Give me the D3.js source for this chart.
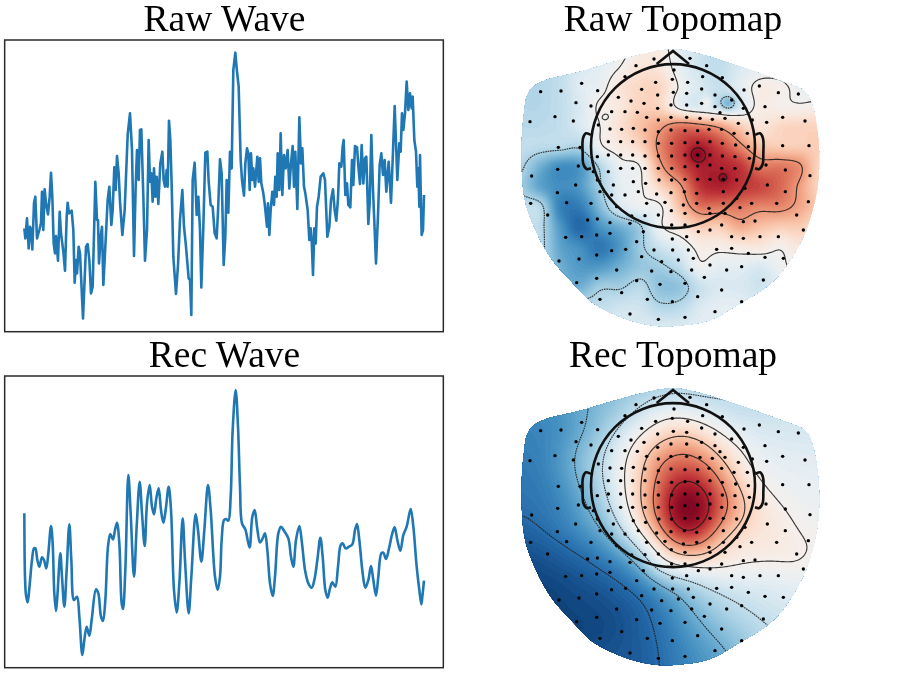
<!DOCTYPE html>
<html><head><meta charset="utf-8">
<style>html,body{margin:0;padding:0;background:#fff}svg{display:block;filter:blur(.35px)}</style>
<script src="https://cdn.jsdelivr.net/npm/d3@7"></script></head><body>
<svg id="c" width="897" height="673"></svg>
<script>
// ---------- wave data (digitised units) ----------
const rawTimeA=[73,76,81,86,90,93,97,102,106,111,118,123,126,130,134,138,144,149,153,157,161,165,168,174,179,183,190,195,200,203,207,215,220,224,228,231,236,240,249,258,263,268,273,278,286,291,294,297,302,306,310,316,323,328,334,338,343,347,351,356,360,367,374,383,390,396,402,407,411,416,420,424,430,435,441,446,450,454,458,462,466,470,475,481,487,491,495,500,503,507,511,515,520,528,534,540,547,552,558,566,570,574,578,584,590,595,600,604,610,616,622,626,632,638,644,650,654];
const rawValueA=[595,625,565,655,590,600,658,520,500,625,600,580,485,600,478,520,553,500,428,500,640,670,618,692,545,610,665,722,560,518,550,542,600,758,690,730,650,670,865,650,642,690,790,770,455,570,570,700,620,590,765,650,510,470,585,540,412,480,378,430,515,615,540,315,250,360,678,470,360,450,300,298,500,692,600,330,455,430,515,415,500,440,522,400,365,450,470,420,470,272,330,465,680,792,705,570,480,590,650,745,750,855,450,398,555,500,600,772,590,368,365,455,525,530,610,625,545];
const rawTimeB=[0,5,11,16,20,25,30,35,40,46,50,56,62,66,72,76,81,85,89,93,97,100,105,112,116,120,124,130,134,141,144,148,152,157,162,166,170,173,178,182,187,192,197,203,208,213,218,222,226,232,238,243,247,252,256,263,268,272,275,279,283,287,291,296,302,310,315,322,328,333,339,344,349,354,358,364,368,371,376,381,385,391,396,400,405,411,416,420,425,430,435,439,445,449,454,459,463,468,474,479,484,489,494,499,506,513,518,524,532,538,542,546,550,555,560,565,570,575,578,583,588,592,595,598,600,603,605,609,612];
const rawValueB=[388,430,705,620,450,548,365,415,120,68,115,170,390,450,497,400,355,370,480,370,450,415,470,380,455,385,460,490,520,590,520,615,540,485,525,440,500,370,480,310,495,375,415,360,475,400,348,470,365,537,262,400,355,470,490,540,630,595,630,735,595,640,530,500,440,430,450,620,590,510,478,540,572,505,400,410,350,330,495,460,525,532,390,465,348,352,420,462,345,460,385,380,582,520,315,480,575,700,555,405,370,435,390,485,395,518,390,228,450,340,365,250,300,250,155,240,190,235,200,330,365,470,415,530,375,530,615,600,495];
const recTimeA=[73,75,78,83,88,96,102,106,112,118,126,132,139,145,153,158,163,168,172,181,186,193,200,208,214,222,231,238,247,253,260,268,275,288,295,303,309,316,324,331,339,345,351,358,365,369,376,385,392,402,410,419,426,434,441,449,456,462,469,476,483,490,497,506,513,522,530,538,548,555,566,574,587,594,604,613,624,632,645,653];
const recValueA=[430,620,675,697,655,570,535,535,570,590,562,570,595,550,468,520,670,723,680,550,620,710,600,463,570,690,680,740,855,810,770,797,750,658,670,740,753,690,530,492,508,480,458,520,700,717,600,315,430,620,470,335,430,528,400,345,410,433,385,355,420,458,420,350,420,660,727,640,445,570,730,620,432,480,575,480,345,420,620,660];
const recTimeB=[0,5,12,18,25,32,38,47,54,60,66,76,83,89,97,104,111,120,128,135,142,150,158,165,175,183,192,205,213,220,228,238,246,255,265,275,283,292,301,308,316,323,330,337,346,354,362,368,377,387,397,405,411,418,428,436,445,453,460,468,475,484,490,498,507,517,524,532,541,550,560,572,580,590,598,604,607,612];
const recValueB=[620,510,450,447,452,380,180,60,170,350,460,478,510,532,440,420,470,517,505,490,540,640,678,620,490,470,482,505,560,590,510,468,520,600,640,653,630,570,503,560,660,683,655,637,650,590,525,520,535,530,523,480,462,510,610,653,630,588,630,677,620,550,548,567,535,490,472,510,542,495,470,417,470,590,660,703,680,632];
// ---------- topomap data: scalp field on a regular digitised grid ----------
const gridX=[30,90,150,210,270,330,390,450,510,570,630,690,750,810,870,930];
const gridY=[20,80,140,200,260,320,380,440,500,560,620,680,740,800,860];
const rawField=[
[-.2,-.2,-.2,-.15,-.1,-.05,.03,.05,-.1,-.2,-.25,-.2,-.15,-.15,-.15,-.15],
[-.3,-.3,-.25,-.15,-.1,0,.12,.1,-.08,-.2,-.25,-.15,-.1,-.08,-.1,-.1],
[-.3,-.3,-.25,-.12,-.06,.12,.2,.2,-.02,-.15,-.22,-.1,.05,.03,-.05,-.1],
[-.3,-.3,-.25,-.15,.03,.1,.22,.2,-.05,-.15,-.2,-.15,.05,.03,.02,.05],
[-.28,-.28,-.25,-.15,.0,.15,.3,.42,.55,.52,.42,.25,.12,.2,.22,.22],
[-.25,-.27,-.28,-.3,-.03,.08,.2,.5,.7,.82,.7,.5,.3,.25,.25,.25],
[-.3,-.5,-.65,-.6,-.3,-.06,0,.4,.65,.82,.82,.75,.55,.55,.47,.2],
[-.36,-.55,-.65,-.6,-.35,-.1,-.02,.2,.42,.75,.82,.75,.7,.6,.42,.2],
[-.25,-.28,-.7,-.72,-.45,-.15,-.05,-.02,.3,.55,.55,.55,.5,.5,.4,.25],
[-.22,-.28,-.6,-.82,-.62,-.5,-.35,-.03,.1,.25,.25,.38,.3,.25,.25,.15],
[-.22,-.28,-.55,-.65,-.75,-.6,-.37,-.2,-.1,.05,.05,.08,.1,.02,.12,.1],
[-.25,-.3,-.5,-.6,-.6,-.5,-.4,-.36,-.25,-.03,-.1,-.1,-.15,-.04,.05,.05],
[-.3,-.35,-.45,-.5,-.36,-.35,-.28,-.42,-.4,-.22,-.15,-.15,-.2,-.1,0,0],
[-.25,-.25,-.25,-.25,-.25,-.2,-.2,-.3,-.28,-.15,-.1,-.1,-.1,-.05,0,0],
[-.15,-.15,-.15,-.15,-.15,-.15,-.15,-.15,-.15,-.1,-.1,-.1,-.05,-.05,0,0]];
const rawPockets=[[655,190,22,-.25],[590,185,18,.2],[290,230,15,-.08],[560,345,22,.12],[640,412,12,.08]];
const recField=[
[-.6,-.6,-.58,-.55,-.5,-.42,-.38,-.35,-.33,-.33,-.3,-.28,-.25,-.2,-.2,-.2],
[-.68,-.65,-.62,-.52,-.45,-.38,-.26,-.14,-.12,-.18,-.23,-.25,-.25,-.22,-.2,-.2],
[-.7,-.7,-.65,-.55,-.42,-.25,-.08,.1,.15,.08,-.05,-.15,-.17,-.17,-.18,-.18],
[-.72,-.7,-.62,-.47,-.32,-.1,.14,.33,.45,.38,.15,0,-.1,-.12,-.13,-.13],
[-.75,-.72,-.6,-.45,-.28,-.03,.2,.55,.65,.6,.38,.1,-.06,-.08,-.1,-.1],
[-.75,-.75,-.65,-.5,-.3,-.05,.25,.6,.9,.85,.55,.25,.03,-.03,-.07,-.07],
[-.78,-.75,-.7,-.57,-.38,-.12,.25,.65,1.05,1.02,.65,.36,.12,.03,-.03,-.05],
[-.85,-.79,-.72,-.62,-.5,-.25,.1,.5,.95,.88,.45,.22,.14,.08,0,-.03],
[-.9,-.88,-.83,-.75,-.65,-.48,-.22,.15,.5,.47,.2,.1,.09,.08,.05,0],
[-.95,-.93,-.9,-.87,-.79,-.7,-.52,-.08,-.02,.03,.05,.02,0,0,.03,-.05],
[-.98,-.98,-.95,-.92,-.9,-.83,-.75,-.57,-.42,-.3,-.2,-.17,-.15,-.13,-.1,-.1],
[-.98,-.98,-.97,-.95,-.93,-.9,-.85,-.72,-.57,-.42,-.33,-.25,-.2,-.17,-.15,-.15],
[-.98,-.98,-.97,-.97,-.96,-.92,-.85,-.78,-.65,-.53,-.42,-.35,-.28,-.22,-.2,-.2],
[-.95,-.95,-.95,-.95,-.92,-.9,-.87,-.79,-.7,-.6,-.52,-.42,-.3,-.3,-.3,-.3],
[-.9,-.9,-.9,-.9,-.9,-.88,-.88,-.8,-.72,-.65,-.58,-.47,-.35,-.3,-.3,-.3]];
const recPockets=[];
const rawLevels=[-.33,0,.45,.87];
const recLevels=[-.8,-.5,-.25,.02,.27,.5,.8];
const sensors=[[432,57],[540,55],[378,77],[590,77],[492,90],[533,127],[578,110],[637,113],[345,110],[395,148],[437,127],[487,118],[490,157],[530,160],[575,147],[615,165],[325,172],[363,183],[402,190],[443,165],[443,205],[483,195],[530,195],[575,190],[615,200],[665,180],[630,218],[702,150],[700,205],[748,138],[805,158],[865,162],[765,200],[818,232],[885,243],[92,155],[153,153],[215,130],[263,152],[198,188],[243,198],[60,245],[135,230],[190,243],[305,215],[345,215],[382,217],[410,232],[445,240],[483,232],[530,232],[570,235],[607,238],[645,235],[685,250],[727,240],[770,247],[265,255],[300,267],[335,268],[370,265],[405,270],[445,275],[483,270],[525,272],[563,272],[597,268],[635,268],[672,280],[712,280],[295,305],[332,305],[368,305],[405,305],[445,310],[485,310],[525,308],[563,308],[600,305],[637,310],[677,315],[715,320],[145,322],[210,322],[818,317],[897,317],[262,350],[295,345],[332,345],[368,345],[405,348],[445,348],[485,348],[525,345],[563,345],[600,345],[637,348],[675,350],[718,355],[143,388],[205,378],[250,395],[295,395],[332,385],[368,385],[405,385],[445,385],[485,385],[525,380],[563,378],[600,375],[635,385],[675,385],[768,375],[826,390],[900,407],[65,408],[197,435],[262,420],[310,435],[370,425],[407,430],[447,420],[485,420],[525,418],[563,418],[600,418],[640,418],[680,420],[705,445],[772,435],[826,455],[142,458],[270,455],[305,465],[345,465],[385,455],[440,462],[483,458],[523,455],[560,460],[640,455],[680,475],[62,490],[170,488],[243,490],[320,500],[410,490],[465,487],[520,495],[560,490],[597,505],[640,490],[690,503],[725,490],[800,490],[895,485],[113,525],[233,540],[262,537],[365,528],[405,527],[445,525],[484,512],[525,520],[600,520],[645,520],[700,545],[735,543],[860,525],[300,548],[360,550],[400,575],[485,555],[525,555],[565,575],[600,570],[635,555],[665,590],[700,595],[750,590],[805,590],[880,570],[167,592],[215,590],[260,585],[300,580],[380,605],[432,630],[487,597],[530,590],[488,630],[535,630],[620,628],[665,625],[715,640],[765,652],[820,655],[260,645],[207,657],[147,663],[305,632],[347,628],[395,650],[455,665],[505,660],[550,655],[600,675],[650,690],[695,680],[320,690],[425,693],[483,695],[545,690],[260,715],[200,728],[380,722],[450,733],[525,730],[583,712],[635,750],[695,785],[760,720],[335,758],[270,778],[412,778],[487,785],[563,770],[360,822],[445,838],[525,832],[615,815]];
const scalpOutline=[[410,40],[489,28],[560,40],[660,70],[830,130],[885,155],[905,190],[925,300],[925,420],[905,520],[880,590],[820,690],[770,740],[690,790],[600,840],[490,858],[420,855],[330,830],[250,790],[180,720],[120,650],[60,530],[40,450],[40,240],[65,145],[230,90]];
const nose=[[440,72],[489,33],[537,72]];
const leftEar=[[243,285],[228,280],[219,295],[218,340],[220,372],[230,387],[243,385]];
const rightEar=[[735,285],[750,280],[759,295],[760,340],[758,372],[748,387],[735,385]];
const head={cx:489,cy:318.5,r:246};
const titles=["Raw Wave","Rec Wave","Raw Topomap","Rec Topomap"];
// ---------- drawing ----------
const svg=d3.select("#c");
function title(t,x,y){svg.append("text").attr("x",x).attr("y",y).attr("text-anchor","middle")
  .attr("font-family","'Liberation Serif',serif").attr("font-size",37.5).attr("fill","#000").text(t);}
function wave(tA,vA,tB,vB,box,curve){
  const x=d3.scaleLinear().domain([0,1347]).range([0,449]);
  const y=d3.scaleLinear().domain(box.dom).range([box.y0,box.y1]);
  const pts=[...tA.map((t,i)=>[t,vA[i]]),...tB.map((t,i)=>[t+660,vB[i]])];
  svg.append("rect").attr("x",x(14)).attr("y",box.y0).attr("width",x(1330)-x(14)).attr("height",box.y1-box.y0)
    .attr("fill","#fff").attr("stroke","#2a2a2a").attr("stroke-width",1.5);
  svg.append("path").attr("fill","none").attr("stroke","#1f77b4").attr("stroke-width",2.6).attr("stroke-linejoin","round")
    .attr("d",d3.line().x(d=>x(d[0])).y(d=>y(d[1])).curve(curve)(pts));
}
function upsample(field,pockets,f,smooth){
  const ny=field.length,nx=field[0].length,W=(nx-1)*f+1,H=(ny-1)*f+1,out=new Float64Array(W*H);
  const cr=(a,b,c,d,t)=>.5*((2*b)+(c-a)*t+(2*a-5*b+4*c-d)*t*t+(3*b-a-3*c+d)*t*t*t);
  const g=(j,i)=>field[Math.max(0,Math.min(ny-1,j))][Math.max(0,Math.min(nx-1,i))];
  const dx=(gridX[1]-gridX[0])/f,dy=(gridY[1]-gridY[0])/f;
  for(let J=0;J<H;J++)for(let I=0;I<W;I++){
    const j=Math.floor(J/f),i=Math.floor(I/f),ty=J/f-j,tx=I/f-i,c=[];
    for(let m=-1;m<3;m++)c.push(cr(g(j+m,i-1),g(j+m,i),g(j+m,i+1),g(j+m,i+2),tx));
    let v=cr(c[0],c[1],c[2],c[3],ty);
    const X=gridX[0]+I*dx,Y=gridY[0]+J*dy;
    for(const p of pockets){const q=((X-p[0])**2+(Y-p[1])**2)/(p[2]*p[2]);if(q<9)v+=p[3]*Math.exp(-q);}
    out[J*W+I]=v;
  }
  if(smooth>0)d3.blur2({data:out,width:W},smooth);
  return {W,H,out};
}
function topomap(id,field,pockets,levels,oy,gy,smooth){
  const mx=d3.scaleLinear().domain([0,3]).range([510,511]);
  const my=d3.scaleLinear().domain([0,3]).range([oy,oy+1]);
  const fy=d3.scaleLinear().domain([0,3]).range([gy,gy+1]);
  const f=12,{W,H,out}=upsample(field,pockets,f,smooth);
  const gx0=gridX[0],gy0=gridY[0],dx=(gridX[1]-gridX[0])/f,dy=(gridY[1]-gridY[0])/f;
  const proj=d3.geoTransform({point(px,py){this.stream.point(mx(gx0+(px-.5)*dx),fy(gy0+(py-.5)*dy));}});
  const path=d3.geoPath(proj);
  const clipLine=d3.line().x(d=>mx(d[0])).y(d=>my(d[1])).curve(d3.curveCatmullRomClosed);
  svg.append("clipPath").attr("id",id).append("path").attr("d",clipLine(scalpOutline));
  const g=svg.append("g").attr("clip-path",`url(#${id})`);
  const color=v=>d3.interpolateRdBu(.5-v*.48);
  const th=d3.range(-1.2,1.2,.02);
  const bands=d3.contours().size([W,H]).thresholds(th)(out);
  g.append("path").attr("d",clipLine(scalpOutline)).attr("fill",color(-1.1));
  g.selectAll("path.band").data(bands).join("path").attr("class","band").attr("d",path)
    .attr("fill",d=>color(d.value+.01)).attr("stroke",d=>color(d.value+.01)).attr("stroke-width",.3);
  g.selectAll("path.iso").data(d3.contours().size([W,H]).thresholds(levels)(out)).join("path").attr("class","iso")
    .attr("d",path).attr("fill","none").attr("stroke","#1a1a1a").attr("stroke-width",1.15).attr("stroke-opacity",.85)
    .attr("stroke-dasharray",d=>d.value<0?"1.6,.8":null);
  svg.append("g").selectAll("circle").data(sensors).join("circle")
    .attr("cx",d=>mx(d[0])).attr("cy",d=>my(d[1])).attr("r",1.7).attr("fill","#000");
  const hg=svg.append("g").attr("fill","none").attr("stroke","#111").attr("stroke-width",2.6);
  hg.append("circle").attr("cx",mx(head.cx)).attr("cy",my(head.cy)).attr("r",mx(head.r)-mx(0));
  const l=d3.line().x(d=>mx(d[0])).y(d=>my(d[1]));
  hg.append("path").attr("d",l(nose));
  hg.append("path").attr("d",l.curve(d3.curveCatmullRom)(leftEar));
  hg.append("path").attr("d",l.curve(d3.curveCatmullRom)(rightEar));
}
title(titles[0],224.5,31);title(titles[1],224.5,367);title(titles[2],673,31);title(titles[3],673,367);
wave(rawTimeA,rawValueA,rawTimeB,rawValueB,{dom:[30,905],y0:40,y1:331.7},d3.curveLinear);
wave(recTimeA,recValueA,recTimeB,recValueB,{dom:[18,893],y0:376,y1:667.7},d3.curveCatmullRom);
topomap("clipRaw",rawField,rawPockets,rawLevels,40,40,0);
topomap("clipRec",recField,recPockets,recLevels,379,380,6);
</script></body></html>
